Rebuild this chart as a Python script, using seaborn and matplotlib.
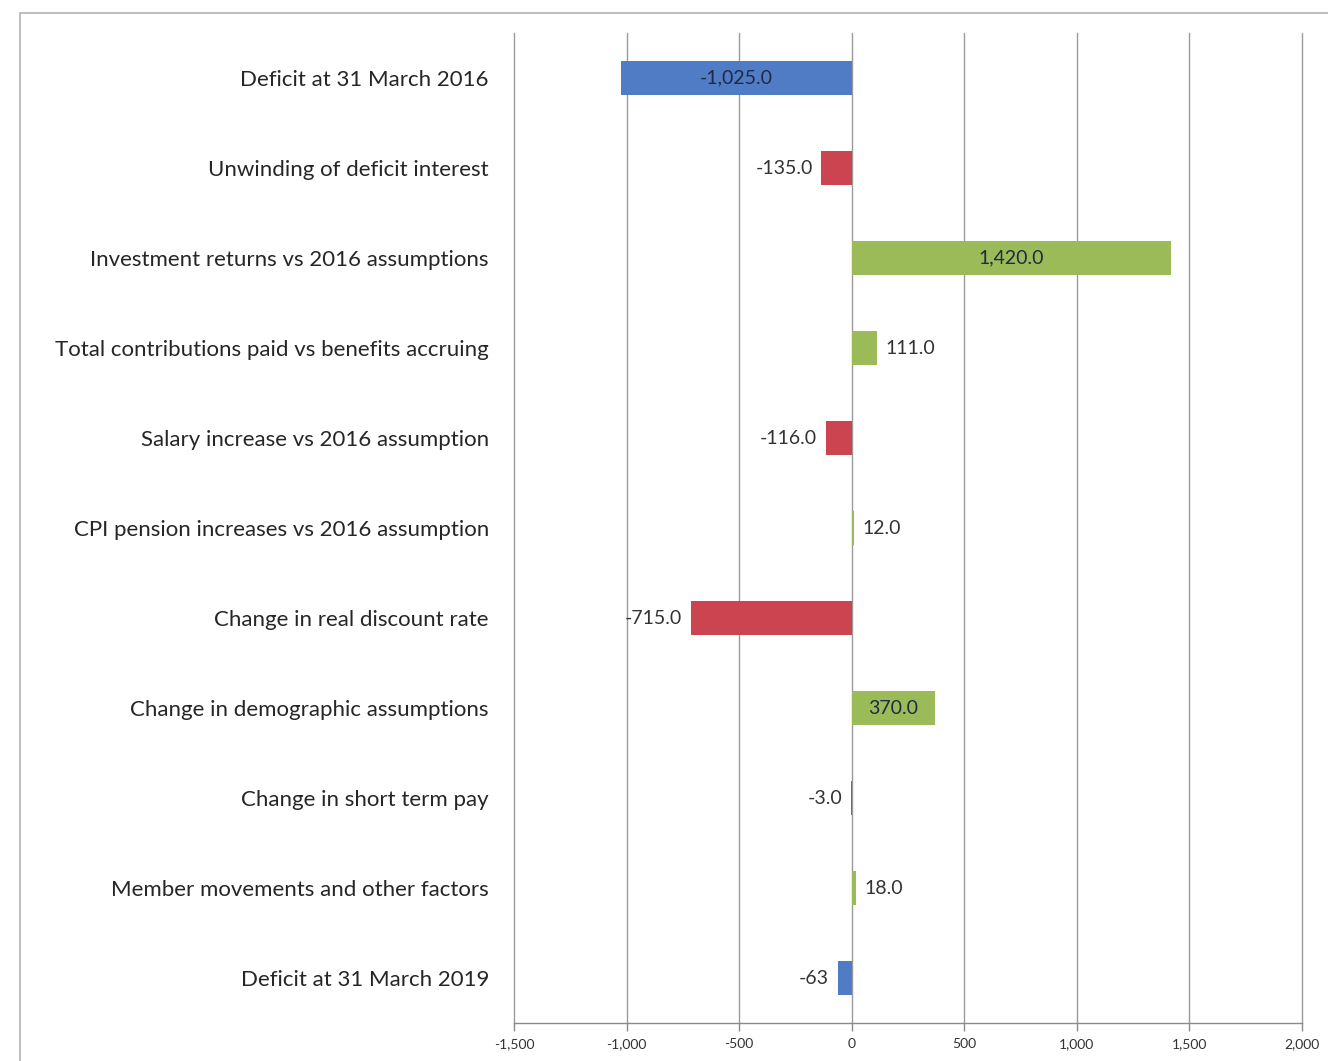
import matplotlib
matplotlib.use("Agg")
import matplotlib.pyplot as plt
import seaborn as sns
import pandas as pd
from matplotlib.patches import Rectangle
from matplotlib.ticker import FuncFormatter, MultipleLocator

# Movements in the funding position, 2016 -> 2019 (£m)
categories = [
    "Deficit at 31 March 2016",
    "Unwinding of deficit interest",
    "Investment returns vs 2016 assumptions",
    "Total contributions paid vs benefits accruing",
    "Salary increase vs 2016 assumption",
    "CPI pension increases vs 2016 assumption",
    "Change in real discount rate",
    "Change in demographic assumptions",
    "Change in short term pay",
    "Member movements and other factors",
    "Deficit at 31 March 2019",
]
values = [-1025.0, -135.0, 1420.0, 111.0, -116.0, 12.0, -715.0, 370.0, -3.0, 18.0, -63.0]
value_labels = ["-1,025.0", "-135.0", "1,420.0", "111.0", "-116.0", "12.0",
                "-715.0", "370.0", "-3.0", "18.0", "-63"]
label_centered = [True, False, True, False, False, False, False, True, False, False, False]

BLUE, RED, GREEN = "#4F7CC4", "#CC4450", "#9BBB59"
bar_colors = [BLUE, RED, GREEN, GREEN, RED, GREEN, RED, GREEN, RED, GREEN, BLUE]

df = pd.DataFrame({"item": categories, "value": values})

sns.set_theme(style="white")
plt.rcParams["font.family"] = ["Lato", "DejaVu Sans"]

fig = plt.figure(figsize=(13.28, 10.61), dpi=100)
ax = fig.add_axes([514 / 1328, 1 - 1023 / 1061, (1302 - 514) / 1328, (1023 - 33) / 1061])

sns.barplot(data=df, x="value", y="item", hue="item",
            palette=dict(zip(categories, bar_colors)), legend=False,
            width=0.38, saturation=1, linewidth=0, ax=ax, zorder=3)

for cont, txt, centered in zip(ax.containers, value_labels, label_centered):
    if centered:
        ax.bar_label(cont, labels=[txt], label_type="center", fontsize=14,
                     color="#1f2a44")
    else:
        ax.bar_label(cont, labels=[txt], label_type="edge", padding=6,
                     fontsize=14, color="#333333")

ax.set_xlim(-1500, 2000)
ax.set_ylim(len(categories) - 0.5, -0.5)
ax.xaxis.set_major_locator(MultipleLocator(500))
ax.xaxis.set_major_formatter(FuncFormatter(lambda v, _: f"{v:,.0f}"))
ax.grid(axis="x", color="#9a9a9a", linewidth=1.0, zorder=0)
ax.grid(axis="y", visible=False)
ax.set_axisbelow(True)
for gl in ax.get_xgridlines():
    gl.set_clip_on(False)

ax.set_xlabel("")
ax.set_ylabel("")
for side in ("top", "right", "left"):
    ax.spines[side].set_visible(False)
ax.spines["bottom"].set_color("#8a8a8a")
ax.spines["bottom"].set_linewidth(1.0)

ax.tick_params(axis="y", length=0, pad=18, labelsize=16, labelcolor="#262626")
ax.tick_params(axis="x", bottom=True, length=6, width=1.0, color="#8a8a8a",
               direction="out", pad=5, labelsize=10, labelcolor="#333333")

# Chart-area frame
fig.patches.append(Rectangle((20 / 1328, -0.01), 1.02, 1 - 13 / 1061 + 0.01,
                             transform=fig.transFigure, fill=False,
                             edgecolor="#b8b8b8", linewidth=1.3, zorder=0))

fig.savefig("out.png", dpi=100, facecolor="white")
